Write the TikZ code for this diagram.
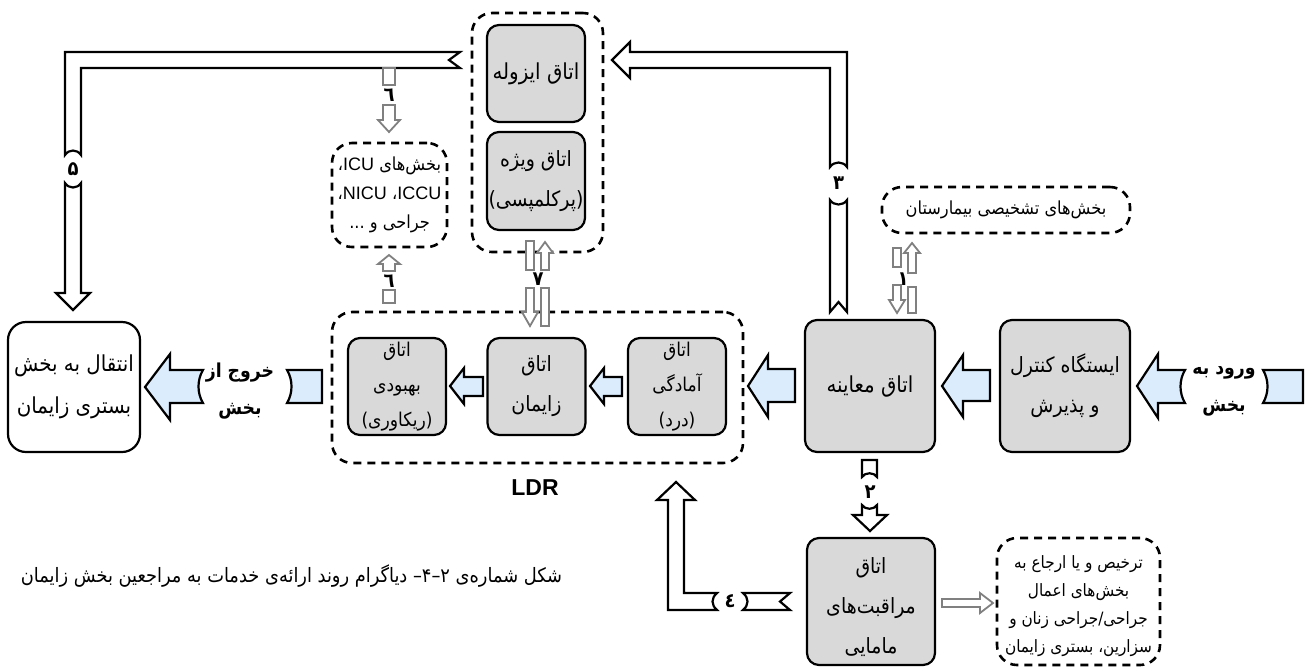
\documentclass[tikz,border=0pt]{standalone}
\usepackage{fontspec}
\usetikzlibrary{calc}
\newfontfamily\fa[Script=Arabic]{DejaVu Sans Condensed}
\newfontfamily\latinfont{Liberation Sans}
\TeXXeTstate=1
\newcommand\rl[1]{\beginR #1\endR}
\newcommand\lat[1]{\beginL{\latinfont #1}\endL}
\definecolor{lblue}{RGB}{219,236,252}
\definecolor{roomgray}{RGB}{217,217,217}
\definecolor{arrgray}{RGB}{128,128,128}

\begin{document}
\begin{tikzpicture}[x=0.5pt, y=-0.5pt, room/.style={draw, fill=roomgray, line width=1.1pt, rounded corners=6pt, inner sep=0pt, align=center}, ext/.style={draw, fill=white, line width=1.1pt, rounded corners=9pt, inner sep=0pt, align=center}, grp/.style={draw, line width=1.3pt, dash pattern=on 4pt off 3pt, rounded corners=10pt, inner sep=0pt, align=center}, blu/.style={draw, fill=lblue, line width=1.1pt}, wht/.style={draw, fill=white, line width=1.1pt}, gry/.style={draw=arrgray, fill=white, line width=0.9pt}, big/.style={font=\fa\fontsize{11}{21}\selectfont}, mid/.style={font=\fa\fontsize{10.5}{20}\selectfont}, sml/.style={font=\fa\fontsize{9.5}{17.5}\selectfont}, tny/.style={font=\fa\fontsize{9}{14.5}\selectfont}, lbl/.style={font=\fa\bfseries\fontsize{9.6}{18.5}\selectfont, align=center, inner sep=0pt}, num/.style={font=\fa\bfseries\fontsize{10}{10}\selectfont, inner sep=0pt}]
\useasboundingbox (0,0) rectangle (1311,666);

% groups
\node[grp, minimum width=205.5pt, minimum height=75.5pt] (ldr) at (537.5,387.5) {};
\node[grp, minimum width=65.5pt, minimum height=119.5pt] (iso) at (537.5,132.5) {};
\node[grp, tny, minimum width=57.5pt, minimum height=52pt] (icu) at (389.5,195) {\rl{بخش‌های \lat{ICU}،}\\\rl{\lat{ICCU}، \lat{NICU}،}\\\rl{جراحی و ...}};
\node[grp, tny, minimum width=124pt, minimum height=23pt] (diag) at (1006,210) {\rl{بخش‌های تشخیصی بیمارستان}};
\node[grp, font=\fa\fontsize{8.5}{14}\selectfont, minimum width=81.5pt, minimum height=63.5pt] (disch) at (1078.5,601.5) {\rl{\rule{0pt}{11pt}ترخیص و یا ارجاع به}\\\rl{بخش‌های اعمال}\\\rl{جراحی/جراحی زنان و}\\\rl{سزارین، بستری زایمان}};

% rooms
\node[ext, big, minimum width=66pt, minimum height=65pt] (transfer) at (74,387) {\rl{انتقال به بخش}\\\rl{بستری زایمان}};
\node[room, mid, minimum width=65pt, minimum height=66pt] (station) at (1065,386) {\rl{ایستگاه کنترل}\\\rl{و پذیرش}};
\node[room, big, minimum width=65pt, minimum height=66pt] (exam) at (870,386) {\rl{اتاق معاینه}};
\node[room, sml, minimum width=49pt, minimum height=48.5pt] (prep) at (677,386.5) {\rl{اتاق}\\\rl{آمادگی}\\\rl{(درد)}};
\node[room, mid, minimum width=49pt, minimum height=48.5pt] (birth) at (536.5,386.5) {\rl{اتاق}\\\rl{زایمان}};
\node[room, sml, minimum width=49pt, minimum height=48.5pt] (recov) at (397,386.5) {\rl{اتاق}\\\rl{بهبودی}\\\rl{(ریکاوری)}};
\node[room, big, minimum width=49pt, minimum height=48.5pt] (isol) at (536,73.5) {\rl{اتاق ایزوله}};
\node[room, mid, minimum width=49pt, minimum height=49pt] (spec) at (536,181) {\rl{اتاق ویژه}\\\rl{(پرکلمپسی)}};
\node[room, mid, minimum width=64pt, minimum height=63.5pt] (midw) at (871,601.5) {\rl{\rule{0pt}{14pt}اتاق}\\\rl{مراقبت‌های}\\\rl{مامایی}};

\node[font=\latinfont\bfseries\fontsize{11.5}{13}\selectfont, inner sep=0pt] (ldrlbl) at (535,488) {LDR};
\node[lbl] (entrylbl) at (1224,391) {\rl{ورود به}\\\rl{بخش}};
\node[lbl] (exitlbl) at (240,391) {\rl{خروج از}\\\rl{بخش}};
\node[font=\fa\fontsize{9.9}{11}\selectfont, inner sep=0pt] (caption) at (291.5,576) {\rl{شکل شماره‌ی ۲–۴– دیاگرام روند ارائه‌ی خدمات به مراجعین بخش زایمان}};

% blue flow arrows
\filldraw[blu] (1137,386) -- (1158,354) -- (1158,370) -- (1185,370) .. controls (1179,380) and (1179,393) .. (1185,403) -- (1158,403) -- (1158,418) -- cycle;
\filldraw[blu] (1263,370) .. controls (1269,380) and (1269,393) .. (1263,403) -- (1303,403) -- (1303,370) -- cycle;
\filldraw[blu] (942,386) -- (963,355) -- (963,370) -- (990,370) -- (990,401) -- (963,401) -- (963,417) -- cycle;
\filldraw[blu] (748,386) -- (768,355) -- (768,369) -- (795,369) -- (795,402) -- (768,402) -- (768,417) -- cycle;
\filldraw[blu] (590,386) -- (604,368) -- (604,377) -- (622,377) -- (622,396) -- (604,396) -- (604,404) -- cycle;
\filldraw[blu] (450,386) -- (464,368) -- (464,377) -- (483,377) -- (483,396) -- (464,396) -- (464,404) -- cycle;
\filldraw[blu] (145,387) -- (170,354) -- (170,370) -- (203,370) .. controls (197,380) and (197,393) .. (203,403) -- (170,403) -- (170,420) -- cycle;
\filldraw[blu] (287,370) .. controls (293,380) and (293,393) .. (287,403) -- (322,403) -- (322,370) -- cycle;

% white bent arrows
\filldraw[wht] (460,52) -- (65,52) -- (65,155) .. controls (69,149) and (77,149) .. (81,155) -- (81,68) -- (460,68) -- (449,60) -- cycle;
\filldraw[wht] (65,183) .. controls (69,189) and (77,189) .. (81,183) -- (81,293) -- (90,293) -- (73,310) -- (56,293) -- (65,293) -- cycle;
\node[num] (n5) at (73,169) {۵};
\filldraw[wht] (847,167) -- (847,52) -- (630,52) -- (630,42) -- (612,60) -- (630,78) -- (630,68) -- (830,68) -- (830,167) .. controls (834,161) and (843,161) .. (847,167) -- cycle;
\filldraw[wht] (830,200) .. controls (834,206) and (843,206) .. (847,200) -- (847,312) -- (838.5,302) -- (830,312) -- cycle;
\node[num] (n3) at (838.5,183) {۳};
\filldraw[wht] (676,482) -- (695,500) -- (684,500) -- (684,593) -- (717,593) .. controls (711,598) and (711,605) .. (717,610) -- (668,610) -- (668,500) -- (657,500) -- cycle;
\filldraw[wht] (743,593) .. controls (749,598) and (749,605) .. (743,610) -- (790,610) -- (780,601.5) -- (790,593) -- cycle;
\node[num] (n4) at (730,601) {٤};
\filldraw[wht] (862,460) -- (877,460) -- (877,477) .. controls (874,472) and (865,472) .. (862,477) -- cycle;
\filldraw[wht] (862,505) .. controls (865,510) and (874,510) .. (877,505) -- (877,515) -- (887,515) -- (870,531) -- (853,515) -- (862,515) -- cycle;
\node[num] (n2) at (870,492) {۲};

% gray thin arrows
\filldraw[gry] (383,68) rectangle (395,85);
\filldraw[gry] (383,105) -- (395,105) -- (395,120) -- (400,120) -- (389,132) -- (378,120) -- (383,120) -- cycle;
\node[num] (n6a) at (389,95) {٦};
\filldraw[gry] (389,255) -- (400,264) -- (395,264) -- (395,271) -- (383,271) -- (383,264) -- (378,264) -- cycle;
\filldraw[gry] (383,290) rectangle (395,303);
\node[num] (n6b) at (389,281) {٦};
\filldraw[gry] (893,248) rectangle (901,267);
\filldraw[gry] (893,285) -- (901,285) -- (901,300) -- (905,300) -- (897,313) -- (889,300) -- (893,300) -- cycle;
\filldraw[gry] (912,243) -- (920,253) -- (916,253) -- (916,273) -- (908,273) -- (908,253) -- (904,253) -- cycle;
\filldraw[gry] (908,287) rectangle (916,313);
\node[num] (n1) at (903,279) {١};
\filldraw[gry] (526,241) rectangle (534,270);
\filldraw[gry] (526,288) -- (534,288) -- (534,312) -- (538,312) -- (530,326) -- (522,312) -- (526,312) -- cycle;
\filldraw[gry] (545,242) -- (553,253) -- (549,253) -- (549,270) -- (541,270) -- (541,253) -- (537,253) -- cycle;
\filldraw[gry] (541,288) rectangle (549,326);
\node[num] (n7) at (538,279) {۷};
\filldraw[gry] (942,599) -- (980,599) -- (980,593) -- (993,603) -- (980,613) -- (980,607) -- (942,607) -- cycle;
\end{tikzpicture}
\end{document}
